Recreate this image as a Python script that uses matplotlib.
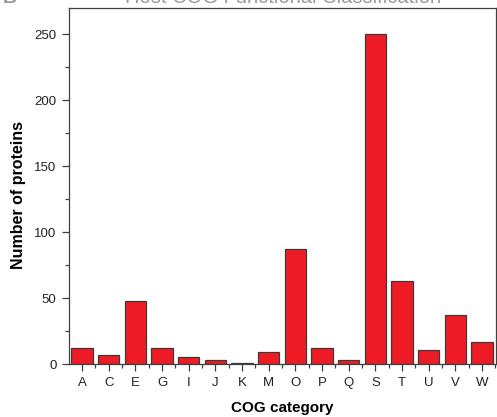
import matplotlib.pyplot as plt
from matplotlib.ticker import MultipleLocator, FixedLocator

plt.rcParams['font.family'] = ['Liberation Sans', 'DejaVu Sans']

# COG categories and counts
categories = ['A', 'C', 'E', 'G', 'I', 'J', 'K', 'M', 'O', 'P', 'Q', 'S', 'T', 'U', 'V', 'W']
counts = [12, 7, 48, 12, 5, 3, 1, 9, 87, 12, 3, 250, 63, 11, 37, 17]

fig = plt.figure(figsize=(4.97, 4.17), dpi=100)
ax = fig.add_axes([0.139, 0.127, 0.859, 0.854])

x = list(range(len(categories)))
ax.bar(x, counts, width=0.8, color='#ED1C24', edgecolor='#3a3a3a', linewidth=0.9)

ax.set_xlim(-0.49, 15.52)
ax.set_ylim(0, 270)

ax.set_xticks(x)
ax.set_xticklabels(categories)
ax.xaxis.set_minor_locator(FixedLocator([i + 0.5 for i in range(-1, 16)]))
ax.yaxis.set_major_locator(MultipleLocator(50))
ax.yaxis.set_minor_locator(MultipleLocator(25))

for s in ax.spines.values():
    s.set_color('#404040')
    s.set_linewidth(0.9)

ax.tick_params(axis='both', which='major', direction='out', length=5, width=0.9,
               color='#404040', labelsize=9.5, labelcolor='#222222', pad=4)
ax.tick_params(axis='both', which='minor', direction='out', length=3, width=0.9, color='#404040')

ax.set_xlabel('COG category', fontsize=11, fontweight='bold', labelpad=9)
ax.set_ylabel('Number of proteins', fontsize=11.5, fontweight='bold')
ax.yaxis.set_label_coords(-0.1, 0.475)

# title partly cut off at the top edge in the original
fig.text(0.57, 0.993, 'Host COG Functional Classification', ha='center', va='baseline',
         fontsize=14.5, color='#9a9a9a')
fig.text(0.005, 0.993, 'B', ha='left', va='baseline', fontsize=14, color='#9a9a9a', fontweight='bold')

fig.savefig('out.png', dpi=100)
